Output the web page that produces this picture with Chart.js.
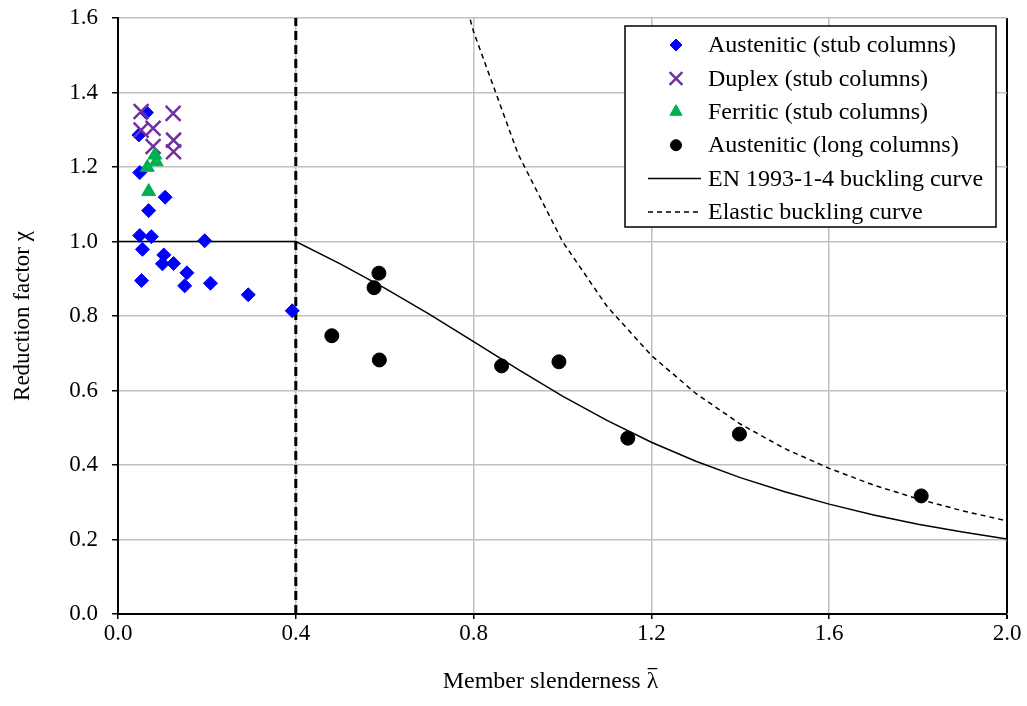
<!DOCTYPE html>
<html lang="en">
<head>
    <meta charset="UTF-8">
    <title>Reduction factor vs member slenderness</title>
    <script src="https://cdn.jsdelivr.net/npm/chart.js"></script>
    <style>
        body {
            margin: 0;
            background: #fff;
        }
        #wrap {
            width: 1027px;
            height: 706px;
        }
    </style>
</head>
<body>
    <div id="wrap"><canvas id="chiChart" width="1027" height="706"></canvas></div>

    <script>
        // test data: [slenderness, reduction factor]
        const austeniticStub = [
            [0.064, 1.346], [0.047, 1.286], [0.049, 1.185], [0.106, 1.119], [0.069, 1.083],
            [0.049, 1.016], [0.075, 1.013], [0.195, 1.002], [0.055, 0.979], [0.103, 0.964],
            [0.100, 0.940], [0.125, 0.941], [0.155, 0.916], [0.053, 0.895], [0.150, 0.881],
            [0.208, 0.888], [0.293, 0.857], [0.392, 0.814]
        ];
        const duplexStub = [
            [0.052, 1.349], [0.124, 1.344], [0.052, 1.299], [0.079, 1.304],
            [0.079, 1.255], [0.125, 1.272], [0.125, 1.241]
        ];
        const ferriticStub = [
            [0.083, 1.232], [0.086, 1.214], [0.066, 1.199], [0.069, 1.134]
        ];
        const austeniticLong = [
            [0.587, 0.915], [0.576, 0.876], [0.481, 0.747], [0.588, 0.682], [0.863, 0.666],
            [0.992, 0.677], [1.147, 0.472], [1.398, 0.483], [1.807, 0.317]
        ];

        // curves
        const curveX = [0.0, 0.4, 0.5, 0.6, 0.7, 0.8, 0.9, 1.0, 1.1, 1.2, 1.3, 1.4, 1.5, 1.6, 1.7, 1.8, 1.9, 2.0];
        const enCurve = [1.0, 1.0, 0.940, 0.875, 0.805, 0.731, 0.657, 0.585, 0.520, 0.461, 0.410, 0.366, 0.328, 0.295, 0.266, 0.241, 0.220, 0.201];
        const elasticX = [0.7, 0.75, 0.8, 0.9, 1.0, 1.1, 1.2, 1.3, 1.4, 1.5, 1.6, 1.7, 1.8, 1.9, 2.0];
        const elasticCurve = [2.041, 1.778, 1.563, 1.235, 1.0, 0.826, 0.694, 0.592, 0.510, 0.444, 0.391, 0.346, 0.309, 0.277, 0.250];
        const limitX = [0.4, 0.4];
        const limitY = [0.0, 1.6];

        const xTicks = [0.0, 0.4, 0.8, 1.2, 1.6, 2.0];
        const yTicks = [0.0, 0.2, 0.4, 0.6, 0.8, 1.0, 1.2, 1.4, 1.6];

        const FONT = "'Liberation Serif', 'Times New Roman', serif";
        const XTITLE_PREFIX = 'Member slenderness ';
        const toPts = arr => arr.map(p => ({ x: p[0], y: p[1] }));
        const zip = (xs, ys) => xs.map((x, i) => ({ x: x, y: ys[i] }));

        const datasets = [
            {
                label: 'Austenitic (stub columns)',
                data: toPts(austeniticStub),
                pointStyle: 'rectRot', pointRadius: 7, legendRadius: 6,
                backgroundColor: '#0000ff', borderColor: '#0000ff', borderWidth: 1,
                order: 4
            },
            {
                label: 'Duplex (stub columns)',
                data: toPts(duplexStub),
                pointStyle: 'crossRot', pointRadius: 10.5, legendRadius: 9,
                backgroundColor: '#7030a0', borderColor: '#7030a0', borderWidth: 2.5,
                order: 3
            },
            {
                label: 'Ferritic (stub columns)',
                data: toPts(ferriticStub),
                pointStyle: 'triangle', pointRadius: 8, legendRadius: 7,
                backgroundColor: '#00b050', borderColor: '#00b050', borderWidth: 1,
                order: 2
            },
            {
                label: 'Austenitic (long columns)',
                data: toPts(austeniticLong),
                pointStyle: 'circle', pointRadius: 7, legendRadius: 5.5,
                backgroundColor: '#000', borderColor: '#000', borderWidth: 1,
                order: 1
            },
            {
                label: 'EN 1993-1-4 buckling curve',
                data: zip(curveX, enCurve),
                showLine: true, pointRadius: 0,
                borderColor: '#000', borderWidth: 1.5,
                order: 6
            },
            {
                label: 'Elastic buckling curve',
                data: zip(elasticX, elasticCurve),
                showLine: true, pointRadius: 0,
                borderColor: '#000', borderWidth: 1.5, borderDash: [5, 4],
                order: 7
            },
            {
                label: 'limit',
                data: zip(limitX, limitY),
                showLine: true, pointRadius: 0,
                borderColor: '#000', borderWidth: 3, borderDash: [9, 5],
                order: 5
            }
        ];

        // legend box inside the plot area + bar over lambda in the x title
        const boxLegend = {
            id: 'boxLegend',
            afterDraw(chart) {
                const ctx = chart.ctx;
                const left = 625, top = 26, w = 371, h = 201;
                ctx.save();
                ctx.fillStyle = '#fff';
                ctx.fillRect(left, top, w, h);
                ctx.strokeStyle = '#000';
                ctx.lineWidth = 1.5;
                ctx.strokeRect(left, top, w, h);
                ctx.font = '24px ' + FONT;
                ctx.textBaseline = 'middle';
                ctx.textAlign = 'left';
                for (let i = 0; i < 6; i++) {
                    const ds = chart.data.datasets[i];
                    const y = 45 + i * 33.4;
                    if (ds.showLine) {
                        ctx.strokeStyle = '#000';
                        ctx.lineWidth = 1.5;
                        ctx.setLineDash(ds.borderDash || []);
                        ctx.beginPath();
                        ctx.moveTo(648, y);
                        ctx.lineTo(701, y);
                        ctx.stroke();
                        ctx.setLineDash([]);
                    } else {
                        ctx.fillStyle = ds.backgroundColor;
                        ctx.strokeStyle = ds.borderColor;
                        ctx.lineWidth = ds.borderWidth;
                        Chart.helpers.drawPoint(ctx, {
                            pointStyle: ds.pointStyle,
                            radius: ds.legendRadius,
                            rotation: 0,
                            borderWidth: ds.borderWidth
                        }, 676, y);
                    }
                    ctx.fillStyle = '#000';
                    ctx.fillText(ds.label, 708, y + 1);
                }

                // overbar on the lambda
                const xs = chart.scales.x;
                const t = xs.options.title;
                const lh = 24 * 1.2;
                const cy = xs.bottom - lh / 2 - t.padding.bottom;
                const full = ctx.measureText(t.text).width;
                const pre = ctx.measureText(XTITLE_PREFIX).width;
                const lw = ctx.measureText('\u03BB').width;
                const x0 = (xs.left + xs.right) / 2 - full / 2 + pre;
                ctx.strokeStyle = '#000';
                ctx.lineWidth = 1.3;
                ctx.beginPath();
                ctx.moveTo(x0 + 1, cy - 13);
                ctx.lineTo(x0 + lw - 1, cy - 13);
                ctx.stroke();
                ctx.restore();
            }
        };

        new Chart(document.getElementById('chiChart'), {
            type: 'scatter',
            data: { datasets: datasets },
            plugins: [boxLegend],
            options: {
                responsive: false,
                animation: false,
                layout: { padding: { top: 18, right: 20, left: 0, bottom: 0 } },
                plugins: {
                    legend: { display: false },
                    tooltip: { enabled: false }
                },
                scales: {
                    x: {
                        type: 'linear',
                        min: 0, max: 2.0,
                        afterBuildTicks: s => { s.ticks = xTicks.map(v => ({ value: v })); },
                        afterFit: s => { s.height = 92; s.paddingLeft = 0; s.paddingRight = 0; },
                        ticks: {
                            color: '#000',
                            font: { family: FONT, size: 23 },
                            padding: 1,
                            callback: v => v.toFixed(1)
                        },
                        grid: {
                            color: c => (c.tick && c.tick.value === 2.0) ? '#000' : '#c0c0c0',
                            lineWidth: c => (c.tick && c.tick.value === 2.0) ? 2 : 1.5,
                            tickColor: '#000',
                            tickLength: 5
                        },
                        border: { color: '#000', width: 2 },
                        title: {
                            display: true,
                            // trailing spaces shift the centred title left like the original
                            text: XTITLE_PREFIX + '\u03BB\u00A0\u00A0\u00A0\u00A0',
                            color: '#000',
                            font: { family: FONT, size: 24 },
                            padding: { top: 0, bottom: 10 }
                        }
                    },
                    y: {
                        type: 'linear',
                        min: 0, max: 1.6,
                        afterBuildTicks: s => { s.ticks = yTicks.map(v => ({ value: v })); },
                        afterFit: s => { s.width = 118; s.paddingTop = 0; s.paddingBottom = 0; },
                        ticks: {
                            color: '#000',
                            font: { family: FONT, size: 23 },
                            padding: 14,
                            callback: v => v.toFixed(1)
                        },
                        grid: {
                            color: '#c0c0c0',
                            lineWidth: 1.5,
                            tickColor: '#000',
                            tickLength: 6
                        },
                        border: { color: '#000', width: 2 },
                        title: {
                            display: true,
                            text: 'Reduction factor \u03C7',
                            color: '#000',
                            font: { family: FONT, size: 23 },
                            padding: { top: 9, bottom: 0 }
                        }
                    }
                }
            }
        });
    </script>
</body>
</html>
